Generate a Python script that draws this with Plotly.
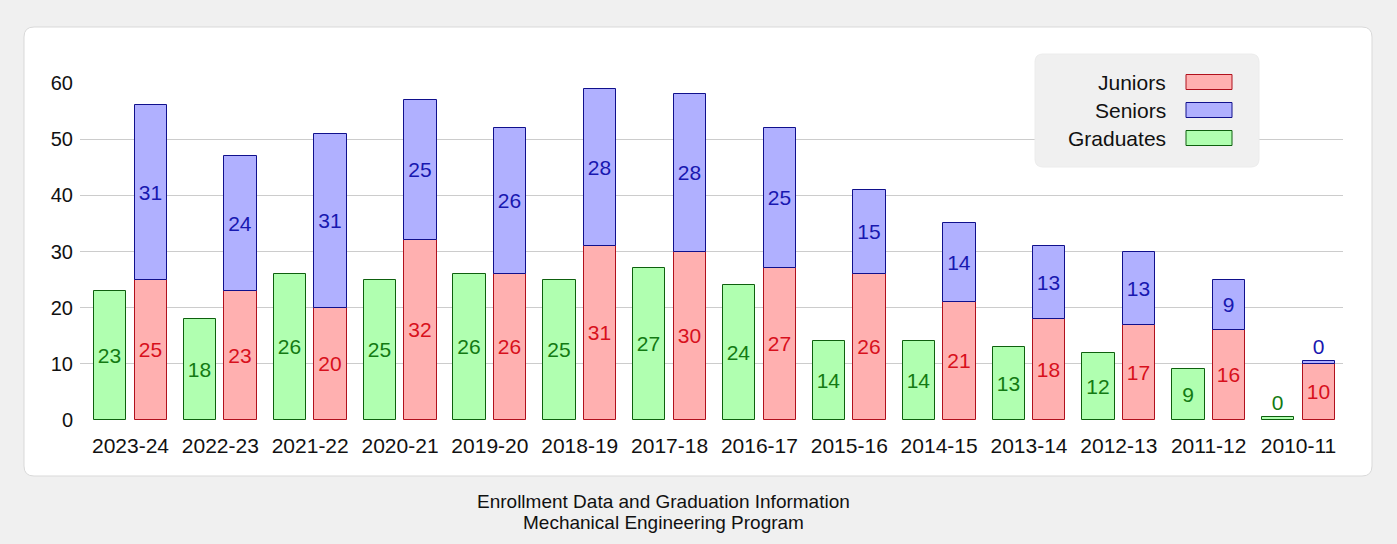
import plotly.graph_objects as go

# ---- data (left-to-right as shown) ----
years = ["2023-24", "2022-23", "2021-22", "2020-21", "2019-20", "2018-19", "2017-18",
         "2016-17", "2015-16", "2014-15", "2013-14", "2012-13", "2011-12", "2010-11"]
graduates = [23, 18, 26, 25, 26, 25, 27, 24, 14, 14, 13, 12, 9, 0]
juniors = [25, 23, 20, 32, 26, 31, 30, 27, 26, 21, 18, 17, 16, 10]
seniors = [31, 24, 31, 25, 26, 28, 28, 25, 15, 14, 13, 13, 9, 0]
y_ticks = [0, 10, 20, 30, 40, 50, 60]

MIN_H = 0.5  # minimum drawn bar length (zero values still visible)
def shown(vals):
    return [max(v, MIN_H) for v in vals]

W, H = 1397, 544
PL, PR, PT, PB = 80, 1343, 83, 420  # plot area in pixels

def xp(px):
    return (px - PL) / (PR - PL)

def yp(py):
    return (PB - py) / (PB - PT)

def rrect(x0, y0, x1, y1, r):
    # rounded rect in pixel coords -> path in paper coords
    rx = r / (PR - PL)
    ry = r / (PB - PT)
    X0, X1 = xp(x0), xp(x1)
    Y0, Y1 = yp(y0), yp(y1)  # Y0 top, Y1 bottom
    return (f"M {X0+rx},{Y0} L {X1-rx},{Y0} Q {X1},{Y0} {X1},{Y0-ry} "
            f"L {X1},{Y1+ry} Q {X1},{Y1} {X1-rx},{Y1} L {X0+rx},{Y1} "
            f"Q {X0},{Y1} {X0},{Y1+ry} L {X0},{Y0-ry} Q {X0},{Y0} {X0+rx},{Y0} Z")

FONT = "Liberation Sans, Arial, sans-serif"
BW = 0.36

RED_F, RED_L, RED_T = "#ffb0b0", "#b0101c", "#d8101c"
BLU_F, BLU_L, BLU_T = "#b0b0ff", "#10108c", "#1818b0"
GRN_F, GRN_L, GRN_T = "#b0ffb0", "#0e600e", "#137a13"

fig = go.Figure()
fig.add_trace(go.Bar(
    name="Graduates", x=years, y=shown(graduates), text=[str(v) for v in graduates],
    width=BW, offset=-0.406,
    marker=dict(color=GRN_F, line=dict(color=GRN_L, width=1)),
    textposition="auto", insidetextanchor="middle", textangle=0,
    textfont=dict(color=GRN_T, size=21, family=FONT), cliponaxis=False,
    showlegend=False, hoverinfo="skip"))
fig.add_trace(go.Bar(
    name="Juniors", x=years, y=shown(juniors), text=[str(v) for v in juniors],
    width=BW, offset=0.046,
    marker=dict(color=RED_F, line=dict(color=RED_L, width=1)),
    textposition="auto", insidetextanchor="middle", textangle=0,
    textfont=dict(color=RED_T, size=21, family=FONT), cliponaxis=False,
    showlegend=False, hoverinfo="skip"))
fig.add_trace(go.Bar(
    name="Seniors", x=years, y=shown(seniors), base=shown(juniors),
    text=[str(v) for v in seniors],
    width=BW, offset=0.046,
    marker=dict(color=BLU_F, line=dict(color=BLU_L, width=1)),
    textposition="auto", insidetextanchor="middle", textangle=0,
    textfont=dict(color=BLU_T, size=21, family=FONT), cliponaxis=False,
    showlegend=False, hoverinfo="skip"))

shapes = [
    dict(type="path", xref="paper", yref="paper", layer="below",
         path=rrect(24, 27, 1372, 476, 10), fillcolor="white",
         line=dict(color="#d9d9d9", width=1)),
    dict(type="path", xref="paper", yref="paper", layer="above",
         path=rrect(1035, 54, 1259, 167, 8), fillcolor="#f0f0f0",
         line=dict(color="#ececec", width=1)),
]
annotations = []
legend_items = [("Juniors", RED_F, RED_L, 82), ("Seniors", BLU_F, BLU_L, 110),
                ("Graduates", GRN_F, GRN_L, 138)]
for label, fc, lc, cy in legend_items:
    shapes.append(dict(type="rect", xref="paper", yref="paper", layer="above",
                       x0=xp(1186), x1=xp(1232), y0=yp(cy - 7.5), y1=yp(cy + 7.5),
                       fillcolor=fc, line=dict(color=lc, width=1)))
    annotations.append(dict(xref="paper", yref="paper", x=xp(1168), y=yp(cy),
                            xanchor="right", yanchor="middle", showarrow=False,
                            text=label, font=dict(family=FONT, size=21, color="#111")))

title_lines = [("Enrollment Data and Graduation Information", 501),
               ("Mechanical Engineering Program", 522)]
for txt, cy in title_lines:
    annotations.append(dict(xref="paper", yref="paper", x=xp(663), y=yp(cy),
                            xanchor="center", yanchor="middle", showarrow=False,
                            text=txt, font=dict(family=FONT, size=19, color="#111")))

fig.update_layout(
    width=W, height=H,
    margin=dict(l=PL, r=W - PR, t=PT, b=H - PB, pad=0),
    paper_bgcolor="#f0f0f0", plot_bgcolor="rgba(0,0,0,0)",
    barmode="overlay", bargap=0,
    shapes=shapes, annotations=annotations,
    font=dict(family=FONT, color="#111"),
    uniformtext=dict(mode=False),
    xaxis=dict(type="category", range=[-0.562, 13.495], showgrid=False,
               showline=False, zeroline=False, ticks="",
               ticklabelstandoff=11,
               tickfont=dict(size=21, family=FONT, color="#111"), fixedrange=True),
    yaxis=dict(range=[0, 60], tickvals=y_ticks, showgrid=True, gridcolor="#cccccc",
               gridwidth=1, zeroline=False, showline=False, ticks="",
               ticklabelstandoff=6,
               tickfont=dict(size=20, family=FONT, color="#111"), fixedrange=True),
)

fig.write_html("out.html", config={"displayModeBar": False})
